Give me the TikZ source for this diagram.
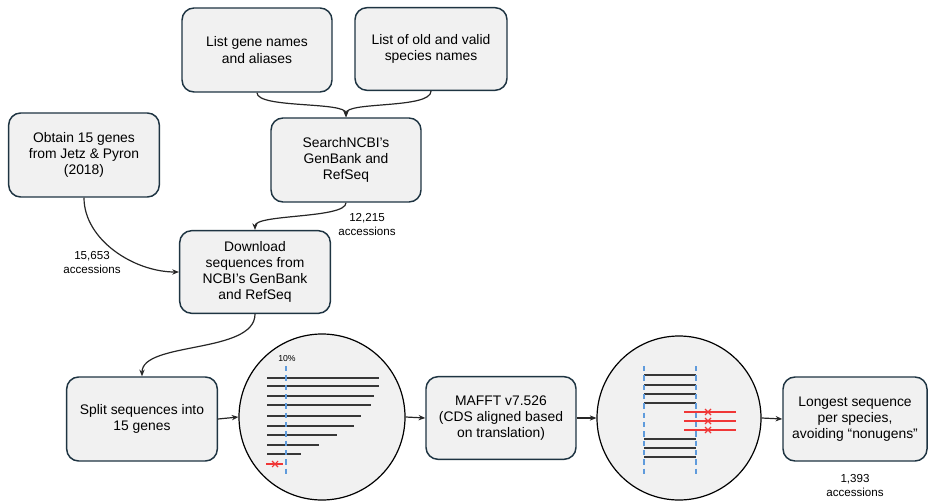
\documentclass[tikz,border=0pt]{standalone}
\usepackage{fontspec}
\setmainfont{Liberation Sans}
\usetikzlibrary{arrows.meta}
\definecolor{boxline}{RGB}{30,52,66}
\definecolor{boxfill}{RGB}{241,241,241}
\definecolor{dashblue}{RGB}{95,155,220}
\definecolor{xred}{RGB}{240,55,55}
\definecolor{seqgrey}{RGB}{55,55,55}
\tikzset{
  stepbox/.style={draw=boxline, line width=1.1pt, fill=boxfill, rounded corners=9pt,
    align=center, inner sep=2pt, font=\fontsize{10.4}{12.2}\selectfont},
  zoomcircle/.style={circle, draw=black, line width=0.9pt, fill=boxfill, inner sep=0pt},
  conn/.style={draw=black!85, line width=0.9pt, -{Stealth[length=5pt,width=4pt]}},
  countlabel/.style={align=center, font=\fontsize{8.7}{10.5}\selectfont},
  seq/.style={draw=seqgrey, line width=1.5pt},
  badseq/.style={draw=xred, line width=1.8pt},
  cutline/.style={draw=dashblue, line width=1.2pt, dash pattern=on 4pt off 3pt}
}
\begin{document}
\begin{tikzpicture}[x=0.75pt,y=-0.75pt]
\useasboundingbox (0,0) rectangle (930,502);

% boxes
\node[stepbox, minimum width=112.5pt, minimum height=63pt] (gene) at (257,50) {List gene names\\and aliases};
\node[stepbox, minimum width=114pt, minimum height=62pt] (species) at (431,49) {List of old and valid\\species names};
\node[stepbox, minimum width=112.5pt, minimum height=63pt] (search) at (346,160) {SearchNCBI's\\GenBank and\\RefSeq};
\node[stepbox, minimum width=113pt, minimum height=63pt] (obtain) at (84,155) {Obtain 15 genes\\from Jetz \& Pyron\\(2018)};
\node[stepbox, minimum width=113pt, minimum height=62pt] (download) at (255,272) {Download\\sequences from\\NCBI's GenBank\\and RefSeq};
\node[stepbox, minimum width=113pt, minimum height=63pt] (split) at (142,419) {Split sequences into\\15 genes};
\node[stepbox, minimum width=112.5pt, minimum height=62pt] (mafft) at (501,418) {MAFFT v7.526\\(CDS aligned based\\on translation)};
\node[stepbox, minimum width=108pt, minimum height=63pt] (longest) at (855,419) {Longest sequence\\per species,\\avoiding “nonugens”};

% circles
\node[zoomcircle, minimum size=124.5pt] (c1) at (322,417) {};
\node[zoomcircle, minimum size=123pt] (c2) at (679,418) {};

% labels
\node[countlabel] (l1) at (367,225) {12,215\\accessions};
\node[countlabel] (l2) at (92,263) {15,653\\accessions};
\node[countlabel] (l3) at (855,486) {1,393\\accessions};

% connectors
\draw[conn] (gene.south) .. controls +(0,16) and +(0,-16) .. (search.north);
\draw[conn] (species.south) .. controls +(0,18) and +(0,-16) .. (search.north);
\draw[conn] (search.south) .. controls +(0,16) and +(0,-16) .. (download.north);
\draw[conn] (obtain.south) .. controls +(0,42) and +(-45,0) .. (download.west);
\draw[conn] (download.south) .. controls +(0,40) and +(0,-35) .. (split.north);
\draw[conn] (split.east) -- (c1.west);
\draw[conn] (c1.east) -- (mafft.west);
\draw[conn] (mafft.east) -- (c2.west);
\draw[conn] (c2.east) -- (longest.west);

% circle 1 content
\node[font=\fontsize{6.5}{7}\selectfont, inner sep=0pt] (pct) at (287,359) {10\%};
\foreach \y/\xe in {378/379, 386/379, 396/374, 405/371, 416/361, 426/354, 435/337, 445/319, 454/301} {
  \draw[seq] (267,\y) -- (\xe,\y);
}
\draw[cutline] (286,366) -- (286,474);
\draw[badseq, line width=1.2pt] (266,464) -- (283,464);
\draw[xred, line width=0.8pt] (272,461) -- (278,467) (272,467) -- (278,461);

% circle 2 content
\foreach \y in {375,385,394,403,439,448,457} {
  \draw[seq] (644,\y) -- (696,\y);
}
\foreach \y in {412,421,430} {
  \draw[badseq] (684,\y) -- (736,\y);
  \draw[xred, line width=0.9pt] (705,\y-3) -- (711,\y+3) (705,\y+3) -- (711,\y-3);
}
\draw[cutline] (644,366) -- (644,474);
\draw[cutline] (696,366) -- (696,474);
\end{tikzpicture}
\end{document}
